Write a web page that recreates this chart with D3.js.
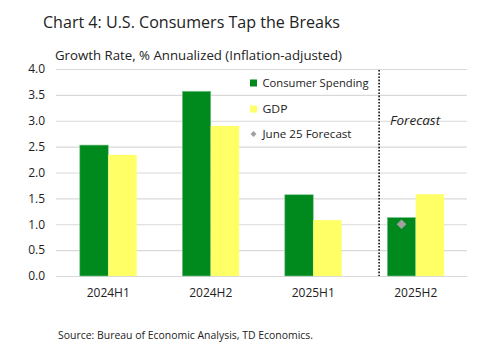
<!DOCTYPE html>
<html><head><meta charset="utf-8">
<script src="https://cdn.jsdelivr.net/npm/d3@7"></script>
<style>body{margin:0;background:#fff}svg{display:block}text{font-family:"Open Sans","Noto Sans",sans-serif;fill:#222}</style>
</head><body><svg id="c" width="480" height="352"></svg>
<script>
const categories = ["2024H1","2024H2","2025H1","2025H2"];
const consumerSpending = [2.53, 3.57, 1.57, 1.13];
const gdp = [2.34, 2.90, 1.08, 1.58];
const juneForecast = [null, null, null, 1.0];
const yTicks = [0,0.5,1,1.5,2,2.5,3,3.5,4];
const seriesNames = ["Consumer Spending","GDP","June 25 Forecast"];

const svg = d3.select("#c");
const M = {l:56, r:13, t:69, b:76};
const W = 480, H = 352;
const x = d3.scaleBand().domain(categories).range([M.l+1, W-M.r]).paddingInner(0.445).paddingOuter(0.2225);
const y = d3.scaleLinear().domain([0,4]).range([H-M.b, M.t]);

function fit(sel, w){ sel.attr("textLength", w).attr("lengthAdjust","spacingAndGlyphs"); return sel; }

fit(svg.append("text").attr("x",43).attr("y",27.5).attr("font-size",16).text("Chart 4: U.S. Consumers Tap the Breaks"), 297);
fit(svg.append("text").attr("x",55).attr("y",60).attr("font-size",12.5).text("Growth Rate, % Annualized (Inflation-adjusted)"), 287);

// grid
const ya = svg.append("g").attr("transform",`translate(${M.l},0)`)
  .call(d3.axisLeft(y).tickValues(yTicks).tickFormat(d3.format(".1f")).tickSize(-(W-M.l-M.r)).tickPadding(11));
ya.select(".domain").remove();
ya.selectAll(".tick line").attr("stroke","#d9d9d9").attr("stroke-width",1.2);
ya.selectAll(".tick text").attr("font-size",12).attr("fill","#333").style("font-family","Open Sans");

const bw = x.bandwidth()/2;
const g = svg.append("g");
g.selectAll(".cs").data(categories).join("rect")
  .attr("x",d=>x(d)).attr("width",bw)
  .attr("y",(d,i)=>y(consumerSpending[i])).attr("height",(d,i)=>y(0)-y(consumerSpending[i]))
  .attr("fill","#008a1e").attr("stroke","#7fc58f").attr("stroke-width",0.6);
g.selectAll(".gdp").data(categories).join("rect")
  .attr("x",d=>x(d)+bw).attr("width",bw)
  .attr("y",(d,i)=>y(gdp[i])).attr("height",(d,i)=>y(0)-y(gdp[i]))
  .attr("fill","#ffff66");
g.selectAll(".fc").data(categories.filter((d,i)=>juneForecast[i]!=null)).join("path")
  .attr("d",d3.symbol(d3.symbolDiamond2,60))
  .attr("transform",d=>`translate(${x(d)+bw/2},${y(juneForecast[categories.indexOf(d)])})`)
  .attr("fill","#a0a0a0");

// x axis labels
const xa = svg.append("g").attr("transform",`translate(0,${y(0)})`)
  .call(d3.axisBottom(x).tickSize(0).tickPadding(12));
xa.select(".domain").remove();
xa.selectAll(".tick text").attr("font-size",12).attr("fill","#222").style("font-family","Open Sans");

// forecast divider
const dx = x("2025H2") - x.step()*0.08;
svg.append("line").attr("x1",dx).attr("x2",dx).attr("y1",y(4)+1).attr("y2",y(0))
  .attr("stroke","#111").attr("stroke-width",1.6).attr("stroke-dasharray","1.6,1.6");
fit(svg.append("text").attr("x",dx+11).attr("y",y(3)+4).attr("font-size",12).attr("font-style","italic").text("Forecast"), 50);

// legend
const lg = svg.append("g");
const ly = [83,109,134];
lg.append("rect").attr("x",250).attr("y",ly[0]-3.5).attr("width",7).attr("height",7).attr("fill","#008a1e");
lg.append("rect").attr("x",250).attr("y",ly[1]-3.5).attr("width",7).attr("height",7).attr("fill","#ffff66");
lg.append("path").attr("d",d3.symbol(d3.symbolDiamond2,22)).attr("transform",`translate(253.5,${ly[2]})`).attr("fill","#a0a0a0");
const legW = [106, 25, 89];
seriesNames.forEach((s,i)=>fit(lg.append("text").attr("x",262.5).attr("y",ly[i]+4).attr("font-size",11.5).text(s), legW[i]));

fit(svg.append("text").attr("x",58).attr("y",339).attr("font-size",10).text("Source: Bureau of Economic Analysis, TD Economics."), 255);
</script></body></html>
